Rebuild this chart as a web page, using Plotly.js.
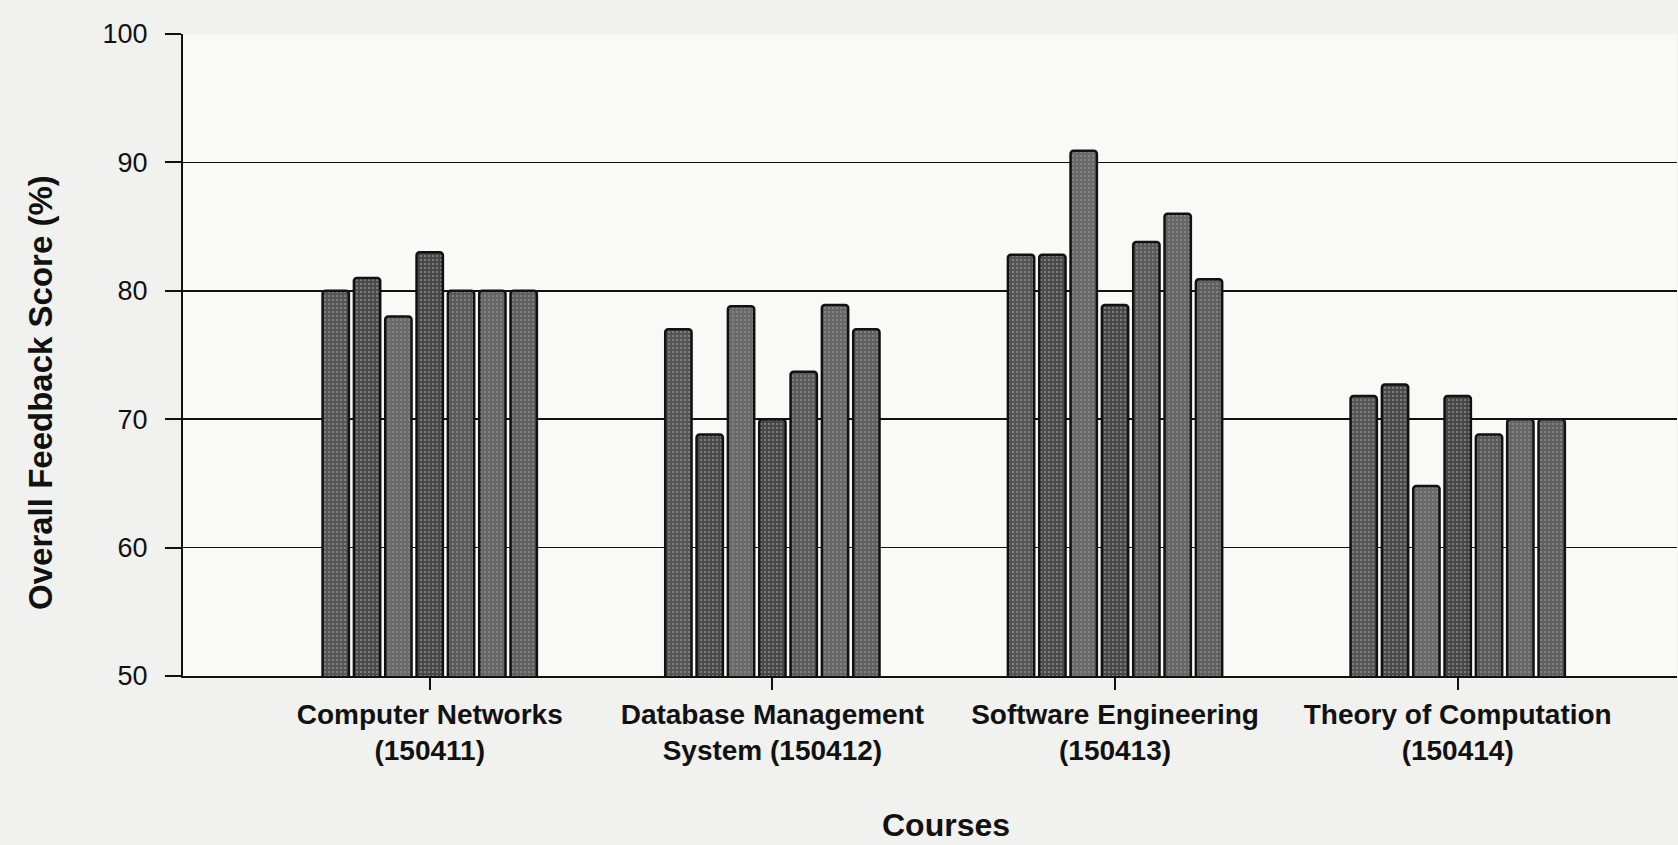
<!DOCTYPE html>
<html>
<head>
<meta charset="utf-8">
<script src="https://cdn.plot.ly/plotly-3.0.1.min.js"></script>
<style>
  html, body { margin: 0; padding: 0; background: #f1f1ef; }
  #chart { width: 1678px; height: 845px; }
</style>
</head>
<body>
<div id="chart"></div>
<script>
const courses = [
  "Computer Networks<br>(150411)",
  "Database Management<br>System (150412)",
  "Software Engineering<br>(150413)",
  "Theory of Computation<br>(150414)"
];
const seriesNames = ["Series 1", "Series 2", "Series 3", "Series 4", "Series 5", "Series 6", "Series 7"];
const s1 = [80.0, 77.0, 82.8, 71.8];
const s2 = [81.0, 68.8, 82.8, 72.7];
const s3 = [78.0, 78.8, 90.9, 64.8];
const s4 = [83.0, 70.0, 78.9, 71.8];
const s5 = [80.0, 73.7, 83.8, 68.8];
const s6 = [80.0, 78.9, 86.0, 70.0];
const s7 = [80.0, 77.0, 80.9, 70.0];
const allSeries = [s1, s2, s3, s4, s5, s6, s7];
const yTicks = [50, 60, 70, 80, 90, 100];
const xTitle = "Courses";
const yTitle = "Overall Feedback Score (%)";

const fills = ["#555555", "#4b4b4b", "#6a6a6a", "#474747", "#5a5a5a", "#666666", "#606060"];

const traces = allSeries.map((vals, i) => ({
  type: "bar",
  name: seriesNames[i],
  x: courses,
  y: vals,
  marker: {
    color: fills[i],
    line: { color: "#111111", width: 2.5 },
    cornerradius: 3,
    pattern: { shape: ".", fgcolor: "#888888", bgcolor: fills[i], size: 4, solidity: 0.22 }
  },
  hoverinfo: "x+y"
}));

const layout = {
  width: 1678,
  height: 845,
  margin: { l: 183, r: 1, t: 34, b: 169 },
  paper_bgcolor: "#f1f1ef",
  plot_bgcolor: "#f9f9f7",
  showlegend: false,
  barmode: "group",
  bargap: 0.36,
  bargroupgap: 0.16,
  font: { family: "Liberation Sans, Arial, sans-serif", color: "#111111" },
  xaxis: {
    type: "category",
    range: [-0.72, 3.64],
    showline: true,
    linecolor: "#111111",
    linewidth: 2,
    ticks: "outside",
    ticklen: 12,
    tickwidth: 2,
    tickcolor: "#111111",
    showgrid: false,
    tickfont: { size: 28, family: "Liberation Sans, Arial, sans-serif", weight: "bold", color: "#111111" }
  },
  yaxis: {
    range: [50, 100],
    tickvals: yTicks,
    ticktext: yTicks.map(String),
    showline: true,
    linecolor: "#111111",
    linewidth: 2,
    ticks: "outside",
    ticklen: 16,
    tickwidth: 2,
    tickcolor: "#111111",
    ticklabelstandoff: 12,
    showgrid: true,
    gridcolor: "#111111",
    gridwidth: 1.5,
    zeroline: false,
    tickfont: { size: 27, color: "#111111" }
  },
  annotations: [
    {
      text: "<b>" + xTitle + "</b>",
      xref: "paper", yref: "paper",
      x: 0.511, y: -0.232,
      xanchor: "center", yanchor: "middle",
      showarrow: false,
      font: { size: 32, color: "#111111" }
    },
    {
      text: "<b>" + yTitle + "</b>",
      xref: "paper", yref: "paper",
      x: -0.095, y: 0.441,
      xanchor: "center", yanchor: "middle",
      textangle: -90,
      showarrow: false,
      font: { size: 33, color: "#111111" }
    }
  ]
};

Plotly.newPlot("chart", traces, layout, { displayModeBar: false, staticPlot: true });
</script>
</body>
</html>
